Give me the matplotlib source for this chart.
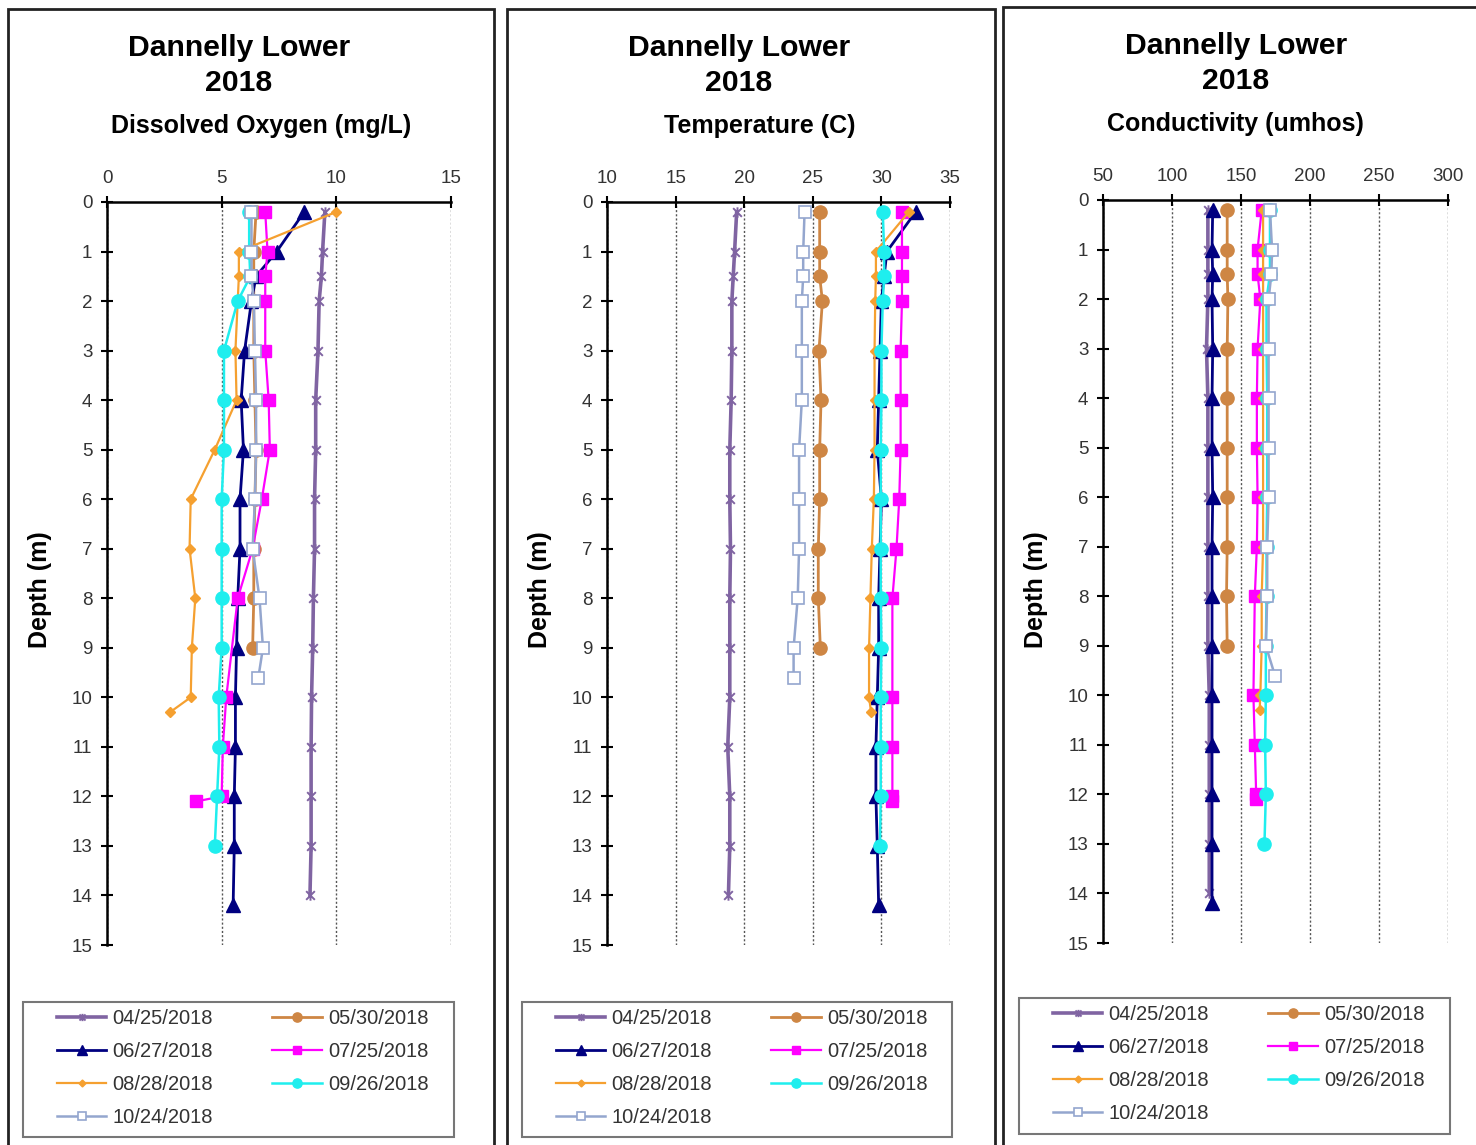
import matplotlib
matplotlib.use("Agg")
import matplotlib.pyplot as plt
import matplotlib.patches as patches
from matplotlib.path import Path

plt.rcParams["font.family"] = ["Liberation Sans", "DejaVu Sans"]

W, H = 1476, 1145

dates = ["04/25/2018", "05/30/2018", "06/27/2018", "07/25/2018",
         "08/28/2018", "09/26/2018", "10/24/2018"]

# depth (m) of each profile point, per sampling date
depth_0425 = [0.2, 1, 1.5, 2, 3, 4, 5, 6, 7, 8, 9, 10, 11, 12, 13, 14]
depth_0530 = [0.2, 1, 1.5, 2, 3, 4, 5, 6, 7, 8, 9]
depth_0627 = [0.2, 1, 1.5, 2, 3, 4, 5, 6, 7, 8, 9, 10, 11, 12, 13, 14.2]
depth_0725 = [0.2, 1, 1.5, 2, 3, 4, 5, 6, 7, 8, 10, 11, 12, 12.1]
depth_0828 = [0.2, 1, 1.5, 2, 3, 4, 5, 6, 7, 8, 9, 10, 10.3]
depth_0926 = [0.2, 1, 1.5, 2, 3, 4, 5, 6, 7, 8, 9, 10, 11, 12, 13]
depth_1024 = [0.2, 1, 1.5, 2, 3, 4, 5, 6, 7, 8, 9, 9.6]

# dissolved oxygen (mg/L)
do_0425 = [9.5, 9.4, 9.35, 9.25, 9.2, 9.1, 9.1, 9.05, 9.05, 9.0, 8.97, 8.92, 8.9, 8.9, 8.9, 8.85]
do_0530 = [6.5, 6.4, 6.4, 6.4, 6.4, 6.45, 6.5, 6.45, 6.4, 6.4, 6.35]
do_0627 = [8.6, 7.4, 6.5, 6.3, 6.0, 5.85, 5.95, 5.8, 5.8, 5.7, 5.65, 5.6, 5.6, 5.55, 5.55, 5.5]
do_0725 = [6.9, 7.0, 6.9, 6.9, 6.9, 7.05, 7.1, 6.75, 6.35, 5.7, 5.2, 5.05, 5.0, 3.9]
do_0828 = [10.0, 5.75, 5.75, 5.7, 5.6, 5.65, 4.7, 3.65, 3.6, 3.85, 3.7, 3.65, 2.75]
do_0926 = [6.2, 6.2, 6.25, 5.7, 5.1, 5.1, 5.1, 5.0, 5.0, 5.0, 5.0, 4.87, 4.9, 4.8, 4.7]
do_1024 = [6.3, 6.3, 6.3, 6.4, 6.45, 6.5, 6.5, 6.45, 6.35, 6.65, 6.8, 6.6]

# temperature (C)
temp_0425 = [19.45, 19.3, 19.2, 19.1, 19.1, 19.05, 18.95, 18.95, 19.0, 18.95, 18.95, 18.95, 18.8, 18.95, 18.95, 18.85]
temp_0530 = [25.5, 25.5, 25.5, 25.7, 25.45, 25.6, 25.5, 25.5, 25.4, 25.4, 25.55]
temp_0627 = [32.5, 30.4, 30.2, 30.0, 29.9, 29.8, 29.7, 30.0, 29.9, 29.8, 29.8, 29.7, 29.6, 29.6, 29.7, 29.8]
temp_0725 = [31.5, 31.5, 31.5, 31.5, 31.4, 31.4, 31.4, 31.3, 31.1, 30.8, 30.8, 30.8, 30.8, 30.8]
temp_0828 = [32.0, 29.6, 29.6, 29.55, 29.5, 29.5, 29.5, 29.45, 29.3, 29.2, 29.1, 29.1, 29.25]
temp_0926 = [30.1, 30.2, 30.2, 30.1, 30.0, 30.0, 29.95, 29.95, 29.95, 29.95, 30.0, 29.95, 29.95, 29.95, 29.9]
temp_1024 = [24.4, 24.3, 24.3, 24.2, 24.2, 24.2, 24.0, 24.0, 24.0, 23.9, 23.6, 23.6]

# conductivity (umhos)
cond_0425 = [126, 126, 126, 126, 125, 126, 126, 126, 126, 126, 126, 127, 127, 127, 127, 127]
cond_0530 = [140, 140, 140, 140.5, 140, 140, 140, 140, 140, 139.5, 140]
cond_0627 = [129.5, 129, 129.5, 129, 129.5, 129, 129, 129.5, 129, 129, 129, 129, 129, 129, 129, 129]
cond_0725 = [165, 162, 162, 164, 162, 161.5, 161.5, 162, 161.5, 160, 159, 160, 161, 161]
cond_0828 = [166, 166, 166, 166, 166, 166, 166, 166, 166, 165, 165, 164, 163.5]
cond_0926 = [171, 171, 171, 168.5, 168.5, 169, 169, 169, 168.5, 168.5, 168, 168, 167.5, 168, 167]
cond_1024 = [171, 172.5, 172, 170, 170, 170, 170, 170, 169, 169, 168, 174.6]

depths = [depth_0425, depth_0530, depth_0627, depth_0725, depth_0828, depth_0926, depth_1024]
do_vals = [do_0425, do_0530, do_0627, do_0725, do_0828, do_0926, do_1024]
temp_vals = [temp_0425, temp_0530, temp_0627, temp_0725, temp_0828, temp_0926, temp_1024]
cond_vals = [cond_0425, cond_0530, cond_0627, cond_0725, cond_0828, cond_0926, cond_1024]

# excel-like "star" marker: an x with a vertical bar
star = Path([(-1, -1), (1, 1), (-1, 1), (1, -1), (0, -1.2), (0, 1.2)],
            [Path.MOVETO, Path.LINETO, Path.MOVETO, Path.LINETO, Path.MOVETO, Path.LINETO])

styles = [
    dict(color="#8064A2", marker=star, ms=7.5, mfc="#8064A2", mew=1.4, lw=2.6),
    dict(color="#CE8644", marker="o", ms=9.5, mfc="#CE8644", mew=1, lw=2.0),
    dict(color="#000080", marker="^", ms=9.5, mfc="#000080", mew=1, lw=2.0),
    dict(color="#FF00FF", marker="s", ms=9, mfc="#FF00FF", mew=1, lw=1.6),
    dict(color="#F5A030", marker="D", ms=5, mfc="#F5A030", mew=1, lw=1.6),
    dict(color="#1FEEEE", marker="o", ms=9.5, mfc="#1FEEEE", mew=1, lw=1.8),
    dict(color="#94A6CE", marker="s", ms=8.5, mfc="white", mew=1.2, lw=1.8),
]

panels = [
    dict(left=107, right=451, top=202, bottom=945, vals=do_vals,
         xlim=(0, 15), xticks=[0, 5, 10, 15], cx=239, sx=261, ty=48,
         sub="Dissolved Oxygen (mg/L)", frame=(8, 9, 494),
         leg=(23, 1002, 454, 1137)),
    dict(left=607, right=950, top=202, bottom=945, vals=temp_vals,
         xlim=(10, 35), xticks=[10, 15, 20, 25, 30, 35], cx=739, sx=760, ty=48,
         sub="Temperature (C)", frame=(507, 9, 995),
         leg=(522, 1002, 952, 1137)),
    dict(left=1103, right=1448, top=200, bottom=943, vals=cond_vals,
         xlim=(50, 300), xticks=[50, 100, 150, 200, 250, 300], cx=1236, sx=1235, ty=46,
         sub="Conductivity (umhos)", frame=(1003, 7, 1500),
         leg=(1019, 998, 1450, 1134)),
]

fig = plt.figure(figsize=(W / 100, H / 100), dpi=100)
fig.patch.set_facecolor("white")

order = [0, 2, 4, 6, 1, 3, 5]  # legend reads row-wise in the original

for p in panels:
    x0, y0, x1 = p["frame"]
    fig.patches.append(patches.Rectangle(
        (x0 / W, 1 - 1160 / H), (x1 - x0) / W, (1160 - y0) / H,
        transform=fig.transFigure, fill=False, edgecolor="#222", linewidth=2))

    ax = fig.add_axes([p["left"] / W, 1 - p["bottom"] / H,
                       (p["right"] - p["left"]) / W, (p["bottom"] - p["top"]) / H])
    handles = []
    for d, v, st, lab in zip(depths, p["vals"], styles, dates):
        (h,) = ax.plot(v, d, color=st["color"], marker=st["marker"], ms=st["ms"],
                       mfc=st["mfc"], mec=st["color"], mew=st["mew"], lw=st["lw"],
                       label=lab, clip_on=False)
        handles.append(h)

    ax.set_xlim(*p["xlim"])
    ax.set_ylim(15, 0)
    ax.set_xticks(p["xticks"])
    ax.set_yticks(range(0, 16))
    ax.xaxis.tick_top()
    for s in ("right", "bottom"):
        ax.spines[s].set_visible(False)
    for s in ("left", "top"):
        ax.spines[s].set_linewidth(1.8)
        ax.spines[s].set_color("black")
    ax.tick_params(axis="both", direction="inout", length=9, width=1.5,
                   labelsize=13.5, labelcolor="#333")
    ax.tick_params(axis="x", pad=6)
    ax.tick_params(axis="y", pad=6)
    ax.grid(axis="x", linestyle=(0, (1.5, 1.5)), color="#555", linewidth=1)
    ax.set_axisbelow(True)

    fig.text((p["left"] - 67) / W, 1 - 590 / H, "Depth (m)", rotation=90,
             ha="center", va="center", fontsize=18, fontweight="bold")

    fig.text(p["cx"] / W, 1 - p["ty"] / H, "Dannelly Lower", ha="center",
             va="center", fontsize=21.7, fontweight="bold")
    fig.text(p["cx"] / W, 1 - (p["ty"] + 35) / H, "2018", ha="center",
             va="center", fontsize=21.7, fontweight="bold")
    fig.text(p["sx"] / W, 1 - (p["ty"] + 78) / H, p["sub"], ha="center",
             va="center", fontsize=18, fontweight="bold")

    # legend box drawn separately, entries placed inside it
    lx0, ly0, lx1, ly1 = p["leg"]
    fig.patches.append(patches.Rectangle(
        (lx0 / W, 1 - ly1 / H), (lx1 - lx0) / W, (ly1 - ly0) / H,
        transform=fig.transFigure, fill=False, edgecolor="#777", linewidth=1.5))
    leg = ax.legend([handles[i] for i in order], [dates[i] for i in order],
                    ncol=2, loc="upper left",
                    bbox_to_anchor=((lx0 + 34) / W, 1 - (ly0 + 7) / H),
                    bbox_transform=fig.transFigure, borderaxespad=0, borderpad=0,
                    fontsize=14.5, handlelength=2.45, handletextpad=0.3,
                    labelspacing=0.7, markerscale=0.7, frameon=False,
                    columnspacing=2.95)
    for t in leg.get_texts():
        t.set_color("#333")

fig.savefig("out.png", dpi=100)
